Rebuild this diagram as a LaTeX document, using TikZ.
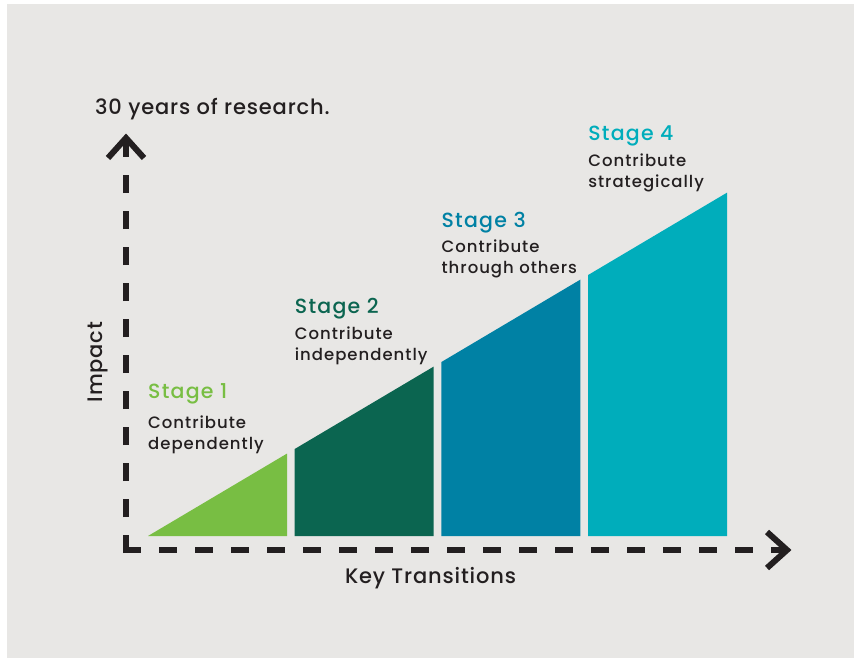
\documentclass[tikz,border=0pt]{standalone}
\usepackage{fontspec}
\setmainfont{Poppins Medium}[LetterSpace=4]
\newfontfamily\widefont{Poppins Medium}[LetterSpace=6]
\usetikzlibrary{calc}
\definecolor{bggray}{HTML}{E8E7E5}
\definecolor{inkblack}{HTML}{231F20}
\definecolor{stageone}{HTML}{78BE43}
\definecolor{stagetwo}{HTML}{0B6550}
\definecolor{stagethree}{HTML}{0081A4}
\definecolor{stagefour}{HTML}{00ADBB}
\begin{document}
\begin{tikzpicture}[
       x=1pt, y=-1pt,
       axis/.style={line width=6pt, draw=inkblack, dash pattern=on 18pt off 18pt},
       axishead/.style={line width=6pt, draw=inkblack, line join=miter},
       stagelabel/.style={anchor=base west, inner sep=0pt, font=\widefont\fontsize{20.5}{24}\selectfont},
       stagetext/.style={anchor=base west, inner sep=0pt, align=left, text width=170pt,
                         text=inkblack, font=\widefont\fontsize{16.5}{21}\selectfont},
       axislabel/.style={inner sep=0pt, text=inkblack, font=\fontsize{21}{25}\selectfont}
   ]
   \useasboundingbox (0,0) rectangle (854,658);
   \fill[white] (0,0) rectangle (854,658);
   \fill[bggray] (7,4) rectangle (854,658);

   % stages
   \foreach \i/\col/\ty/\dy/\second in {1/stageone/398/428/dependently,
                                         2/stagetwo/313/339/independently,
                                         3/stagethree/227/252/through others,
                                         4/stagefour/141/166/strategically} {
       \pgfmathsetmacro\xl{148+146.7*(\i-1)}
       \pgfmathsetmacro\xr{\xl+139}
       \pgfmathsetmacro\yl{536-0.593*(\xl-148)}
       \pgfmathsetmacro\yr{536-0.593*(\xr-148)}
       \fill[\col] (\xl,536) -- (\xl,\yl) -- (\xr,\yr) -- (\xr,536) -- cycle;
       \node[stagelabel, text=\col] (stage\i) at (\xl,\ty) {Stage \i};
       \node[stagetext] (desc\i) at (\xl,\dy) {Contribute\\\second};
   }

   % axes
   \coordinate (O) at (126,550);
   \coordinate (ytip) at (126,138);
   \coordinate (xtip) at (787,550);
   \draw[axis] ([yshift=-3pt]O) -- (ytip);
   \draw[axis] ([xshift=-3pt]O) -- (xtip);
   \draw[axishead] ($(ytip)+(-18,20)$) -- (ytip) -- ($(ytip)+(18,20)$);
   \draw[axishead] ($(xtip)+(-20,-18)$) -- (xtip) -- ($(xtip)+(-20,18)$);

   \node[axislabel, anchor=base west] (title) at (95,115) {30 years of research.};
   \node[axislabel, anchor=base, rotate=90] (impact) at (102,362) {Impact};
   \node[axislabel, anchor=base] (keys) at (430.5,583) {Key Transitions};
\end{tikzpicture}
\end{document}
